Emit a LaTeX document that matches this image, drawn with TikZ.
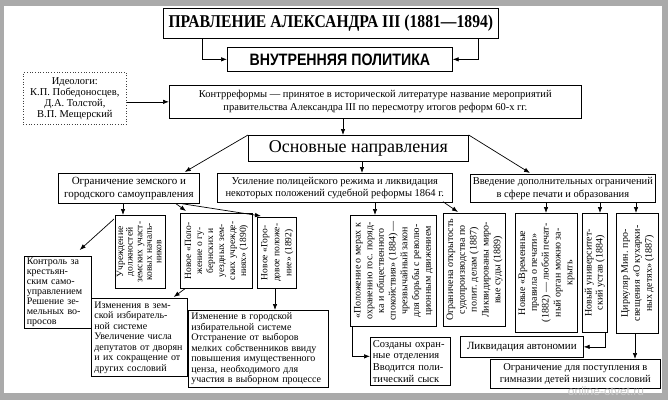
\documentclass[tikz,border=0pt]{standalone}
\usepackage{graphicx}
\usepackage{fontspec}
\setmainfont{Liberation Serif}
\newfontfamily\titlefont[FakeStretch=0.87]{Liberation Serif Bold}
\newfontfamily\innerfont[FakeStretch=0.86]{Liberation Sans Bold}
\newfontfamily\markfont{Liberation Sans}
\usetikzlibrary{arrows.meta,calc}
\definecolor{framegray}{RGB}{170,170,170}
\newcommand{\vlines}[1]{\rotatebox{90}{\begin{tabular}{@{}c@{}}#1\end{tabular}}}
\tikzset{
  box/.style={draw, line width=0.7pt, inner sep=1.5pt, anchor=north west, align=center},
  vbox/.style={box, font=\fontsize{9.5}{11}\selectfont},
  lbox/.style={box, align=left, font=\fontsize{10}{10.5}\selectfont},
  arr/.style={-{Latex[length=6pt,width=4.5pt]}, line width=0.7pt}
}
\begin{document}
\begin{tikzpicture}[x=1pt,y=-1pt]
    \useasboundingbox (0,0) rectangle (668,400);
    \fill[framegray] (0,0) rectangle (668,400);
    \fill[white] (4,6) rectangle (662,393);

    % Title and inner policy
    \node[box, minimum width=335pt, minimum height=30pt, font=\titlefont\fontsize{18}{20}\selectfont] (title) at (163,8) {ПРАВЛЕНИЕ АЛЕКСАНДРА III (1881—1894)};
    \node[box, minimum width=225pt, minimum height=24pt, font=\innerfont\fontsize{16.5}{18}\selectfont] (inner) at (227,47) {ВНУТРЕННЯЯ ПОЛИТИКА};
    \draw[arr] ($(title.south west)+(39,0)$) |- (inner.west);
    \draw[arr] ($(title.south west)+(315,0)$) |- (inner.east);

    % Ideologists and counter-reforms
    \node[box, dotted, draw=black!75, minimum width=103pt, minimum height=52pt, font=\fontsize{10.5}{11}\selectfont] (ideol) at (23,72) {Идеологи:\\К.П. Победоносцев,\\Д.А. Толстой,\\В.П. Мещерский};
    \node[box, minimum width=412pt, minimum height=33pt, font=\fontsize{10.5}{13}\selectfont] (kontr) at (169,85) {Контрреформы — принятое в исторической литературе название мероприятий\\правительства Александра III по пересмотру итогов реформ 60-х гг.};
    \draw[arr] (ideol.east |- kontr.west) -- (kontr.west);

    % Main directions
    \node[box, minimum width=220pt, minimum height=26pt, font=\fontsize{18}{20}\selectfont] (osn) at (248,135) {Основные направления};
    \coordinate (kd) at ($(kontr.south west)+(174,0)$);
    \draw[arr] (kd) -- (kd |- osn.north);

    \node[box, minimum width=141pt, minimum height=30pt, font=\fontsize{11}{13}\selectfont] (ogr) at (58,173) {Ограничение земского и\\городского самоуправления};
    \node[box, minimum width=235pt, minimum height=29pt, font=\fontsize{10.5}{12.5}\selectfont] (usil) at (217,173) {Усиление полицейского режима и ликвидация\\некоторых положений судебной реформы 1864 г.};
    \node[box, minimum width=185pt, minimum height=28pt, font=\fontsize{10.5}{12.5}\selectfont] (vved) at (470,174) {Введение дополнительных ограничений\\в сфере печати и образования};
    \draw[arr] (osn.north west) -- ($(ogr.north east)+(-15,-1)$);
    \draw[arr] (osn.north east) -- ($(vved.north west)+(60,-1)$);
    \coordinate (oc) at ($(osn.south west)+(114,0)$);
    \draw[arr] (oc) -- (oc |- usil.north);

    % Local self-government
    \node[vbox, minimum width=50pt, minimum height=73pt, inner sep=1pt, font=\fontsize{9.5}{9.6}\selectfont] (uchr) at (115,215) {\vlines{Учреждение\\должностей\\земских участ-\\ковых началь-\\ников}};
    \node[vbox, minimum width=72pt, minimum height=75pt] (novpol) at (180,213) {\vlines{Новое «Поло-\\жение о гу-\\бернских и\\уездных зем-\\ских учрежде-\\ниях» (1890)}};
    \node[vbox, minimum width=38pt, minimum height=71pt, font=\fontsize{9.5}{12}\selectfont] (gorod) at (257,217) {\vlines{Новое «Горо-\\довое положе-\\ние» (1892)}};
    \node[lbox, minimum width=67pt, minimum height=72pt, text width=62pt, font=\fontsize{10}{9.9}\selectfont] (kontrol) at (24,256) {Контроль за\\крестьян-\\ским само-\\управлением\\Решение зе-\\мельных во-\\просов};
    \node[lbox, minimum width=96pt, minimum height=78pt, text width=90pt] (izm1) at (91,298) {Изменения в зем-\\ской избиратель-\\ной системе\\Увеличение числа\\депутатов от дворян\\и их сокращение от\\других сословий};
    \node[lbox, minimum width=140pt, minimum height=77pt, text width=134pt] (izm2) at (188,310) {Изменение в городской\\избирательной системе\\Отстранение от выборов\\мелких собственников ввиду\\повышения имущественного\\ценза, необходимого для\\участия в выборном процессе};
    \draw[arr] ($(ogr.south west)+(65,0)$) -- ($(uchr.north west)+(8,0)$);
    \draw[arr] ($(ogr.south west)+(118,0)$) -- ($(novpol.north west)+(6,-2)$);
    \draw[arr] ($(ogr.south west)+(124,0)$) -- ($(gorod.north west)+(4,-1)$);
    \draw[arr] ($(uchr.north west)+(-1,4)$) -- ($(kontrol.north east)+(-12,-6)$);
    \draw[arr] ($(novpol.south west)+(5,0)$) -- ($(izm1.north east)+(-14,-1)$);
    \coordinate (gd) at ($(gorod.south west)+(18,0)$);
    \draw[arr] (gd) -- (gd |- izm2.north);

    % Police regime
    \node[vbox, minimum width=86pt, minimum height=111pt, font=\fontsize{10}{11.7}\selectfont] (polozh) at (350,215) {\vlines{«Положение о мерах к\\охранению гос. поряд-\\ка и общественного\\спокойствия» (1884) —\\чрезвычайный закон\\для борьбы с револю-\\ционным движением}};
    \node[vbox, minimum width=62pt, minimum height=113pt, font=\fontsize{10}{11.8}\selectfont] (ogranich) at (443,213) {\vlines{Ограничена открытость\\судопроизводства по\\полит. делам (1887)\\Ликвидированы миро-\\вые суды (1889)}};
    \node[lbox, minimum width=80pt, minimum height=48pt, text width=75pt, font=\fontsize{10.5}{11.8}\selectfont] (sozd) at (370,337) {Созданы охран-\\ные отделения\\Вводится поли-\\тический сыск};
    \coordinate (ud) at ($(usil.south west)+(158,0)$);
    \draw[arr] (ud) -- (ud |- polozh.north);
    \draw[arr] ($(usil.south west)+(226,-1)$) -- ($(ogranich.north west)+(15,-1)$);
    \draw[arr] ($(polozh.south west)+(2,0)$) |- ($(sozd.west)+(0,-5)$);

    % Press and education
    \node[vbox, minimum width=62pt, minimum height=119pt, font=\fontsize{10}{11.8}\selectfont] (novye) at (515,213) {\vlines{Новые «Временные\\правила о печати»\\(1882) — любой печат-\\ный орган можно за-\\крыть}};
    \node[vbox, minimum width=25pt, minimum height=119pt, font=\fontsize{10}{11}\selectfont] (novyi) at (582,213) {\vlines{Новый университет-\\ский устав (1884)}};
    \node[vbox, minimum width=42pt, minimum height=120pt, font=\fontsize{10}{12}\selectfont] (cirk) at (616,213) {\vlines{Циркуляр Мин. про-\\свещения «О кухарки-\\ных детях» (1887)}};
    \node[box, minimum width=123pt, minimum height=21pt, font=\fontsize{11}{13}\selectfont] (likv) at (460,336) {Ликвидация автономии};
    \node[box, minimum width=170pt, minimum height=29pt, font=\fontsize{10.5}{11.7}\selectfont] (ogrpost) at (490,359) {Ограничение для поступления в\\гимназии детей низших сословий};
    \coordinate (v1) at ($(vved.south west)+(76,0)$);
    \coordinate (v2) at ($(vved.south west)+(130,0)$);
    \coordinate (v3) at ($(vved.south west)+(166,0)$);
    \foreach \c/\t in {v1/novye, v2/novyi, v3/cirk}
        \draw[arr] (\c) -- (\c |- \t.north);
    \draw[arr] ($(novyi.south east)+(-2,0)$) |- (likv.east);
    \coordinate (cd) at ($(cirk.south west)+(19,0)$);
    \draw[arr] (cd) -- (cd |- ogrpost.north);

    % Watermark
    \node[font=\markfont\fontsize{12}{12}\selectfont, text=white!78!black, inner sep=0pt] (mark) at (606,391) {online-otvet.ru};
\end{tikzpicture}
\end{document}
